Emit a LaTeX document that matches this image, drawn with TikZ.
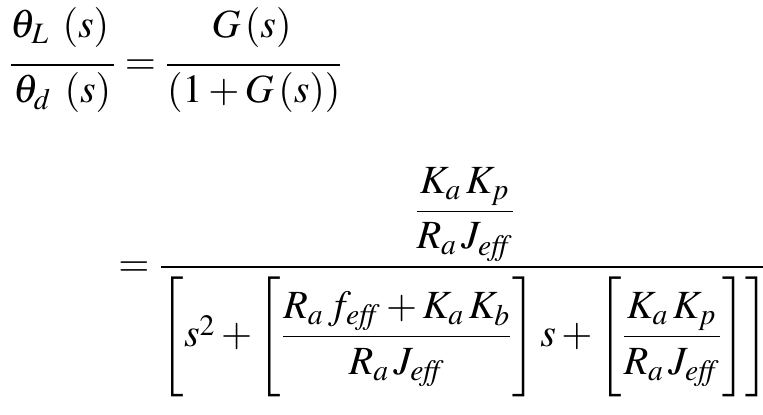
\documentclass[tikz,border=0pt]{standalone}
\usepackage{amsmath}
\usepackage{mathptmx}
\usepackage{tikz}
\usetikzlibrary{positioning}

\newcommand{\eff}{\mathit{eff}}
\newcommand{\gap}{\mkern2mu}
% struts that size the brackets
\newcommand{\innerstrut}{\rule[-24pt]{0pt}{58pt}}
\newcommand{\outerstrut}{\rule[-27pt]{0pt}{64pt}}

\begin{document}
\begin{tikzpicture}[x=0.5pt, y=-0.5pt,
  eqline/.style={inner sep=0pt, anchor=base west, font=\fontsize{20}{24}\selectfont}
]
  \useasboundingbox (0,0) rectangle (763,415);
  \node[eqline] (ratio) at (8,75) {$\dfrac{\theta_L\;\left(s\right)\rule[-11pt]{0pt}{0pt}}{\theta_d\;\left(s\right)} = \dfrac{G\left(s\right)\rule[-11pt]{0pt}{0pt}}{\left(1+G\left(s\right)\right)}$};
  \node[eqline] (closed) at (118,277) {$= \dfrac{\dfrac{K_a\gap K_p}{R_a\gap J_{\eff}}}{\left[\outerstrut s^2+\left[\innerstrut\dfrac{R_a\gap f_{\eff}+K_a\gap K_b}{R_a\gap J_{\eff}}\right]s+\left[\innerstrut\dfrac{K_a\gap K_p}{R_a\gap J_{\eff}}\right]\right]}$};
\end{tikzpicture}
\end{document}
